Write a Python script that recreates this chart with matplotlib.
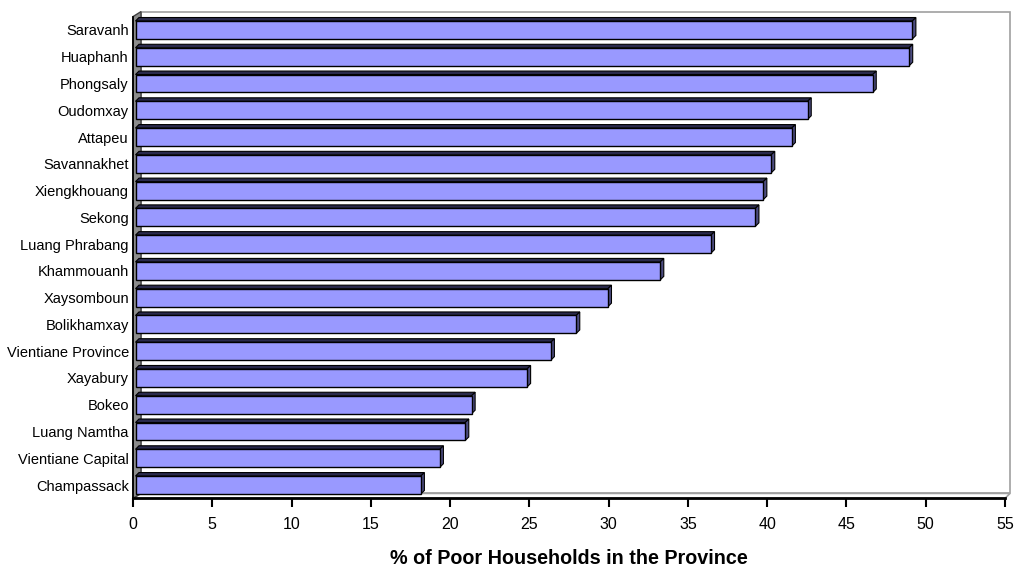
import matplotlib
matplotlib.use("Agg")
import matplotlib.pyplot as plt
from matplotlib.patches import Polygon

provinces = ["Saravanh", "Huaphanh", "Phongsaly", "Oudomxay", "Attapeu",
             "Savannakhet", "Xiengkhouang", "Sekong", "Luang Phrabang",
             "Khammouanh", "Xaysomboun", "Bolikhamxay", "Vientiane Province",
             "Xayabury", "Bokeo", "Luang Namtha", "Vientiane Capital",
             "Champassack"]
poor_pct = [49.0, 48.8, 46.5, 42.4, 41.4, 40.1, 39.6, 39.1, 36.3, 33.1,
            29.8, 27.8, 26.2, 24.7, 21.2, 20.8, 19.2, 18.0]
xticks = list(range(0, 56, 5))

plt.rcParams['font.family'] = ['Liberation Sans', 'DejaVu Sans']

W, H = 1014, 568
fig = plt.figure(figsize=(W / 100, H / 100), dpi=100)
left_px, right_px, top_px, bot_px = 133, 1005, 16.6, 498.4
ax = fig.add_axes([left_px / W, 1 - bot_px / H,
                   (right_px - left_px) / W, (bot_px - top_px) / H])
xmax = 55
n = len(provinces)
ax.set_xlim(0, xmax)
ax.set_ylim(n - 0.5, -0.5)

# data units per pixel
ppx = xmax / (right_px - left_px)
ppy = n / (bot_px - top_px)

# box walls (pseudo 3d)
wl, wr, wd = 8 * ppx, 5 * ppx, 5 * ppy
y0, y1 = -0.5, n - 0.5
back = Polygon([(wl, y0 - wd), (xmax + wr, y0 - wd), (xmax + wr, y1 - wd),
                (wl, y1 - wd)], closed=True, facecolor="white",
               edgecolor="#a0a0a0", lw=1.2, clip_on=False, zorder=0)
ax.add_patch(back)
floor = Polygon([(0, y1), (wl, y1 - wd), (xmax + wr, y1 - wd), (xmax, y1)],
                closed=True, facecolor="white", edgecolor="#a0a0a0", lw=1.2,
                clip_on=False, zorder=0.5)
ax.add_patch(floor)
lwall = Polygon([(0, y0), (wl, y0 - wd), (wl, y1 - wd), (0, y1)],
                closed=True, facecolor="#8c8c8c", edgecolor="#404040",
                lw=1.0, clip_on=False, zorder=0.6)
ax.add_patch(lwall)

# bars: front face, top face and right side face
bh = 0.67
dx, dy = 3.5 * ppx, 3.5 * ppy
shift = 2.5 * ppx
for i, v in enumerate(poor_pct):
    yt = i - bh / 2
    yb = i + bh / 2
    x0, x1 = shift, v + shift
    top = Polygon([(x0, yt), (x0 + dx, yt - dy), (x1 + dx, yt - dy), (x1, yt)],
                  closed=True, facecolor="#2a2a4c", edgecolor="black",
                  lw=0.8, clip_on=False, zorder=2)
    side = Polygon([(x1, yt), (x1 + dx, yt - dy), (x1 + dx, yb - dy), (x1, yb)],
                   closed=True, facecolor="#4c4c80", edgecolor="black",
                   lw=0.8, clip_on=False, zorder=2)
    ax.add_patch(top)
    ax.add_patch(side)
ax.barh(range(n), poor_pct, height=bh, left=shift, color="#9999ff",
        edgecolor="black", linewidth=1.0, zorder=3)

ax.patch.set_visible(False)
for s in ["top", "right"]:
    ax.spines[s].set_visible(False)
ax.spines["bottom"].set_linewidth(2.0)
ax.spines["left"].set_linewidth(1.3)
ax.spines["bottom"].set_zorder(5)
ax.spines["left"].set_zorder(5)

ax.set_xticks(xticks)
ax.set_xticklabels([str(t) for t in xticks], fontsize=11.5)
ax.tick_params(axis="x", direction="out", length=6.5, width=1.5, pad=7)
ax.set_yticks(range(n))
ax.set_yticklabels(provinces, fontsize=10.5)
ax.tick_params(axis="y", length=0, pad=3)

fig.text((left_px + right_px) / 2 / W, 1 - 559 / H,
         "% of Poor Households in the Province", ha="center", va="center",
         fontsize=14.2, fontweight="bold")

fig.savefig("out.png", dpi=100)
